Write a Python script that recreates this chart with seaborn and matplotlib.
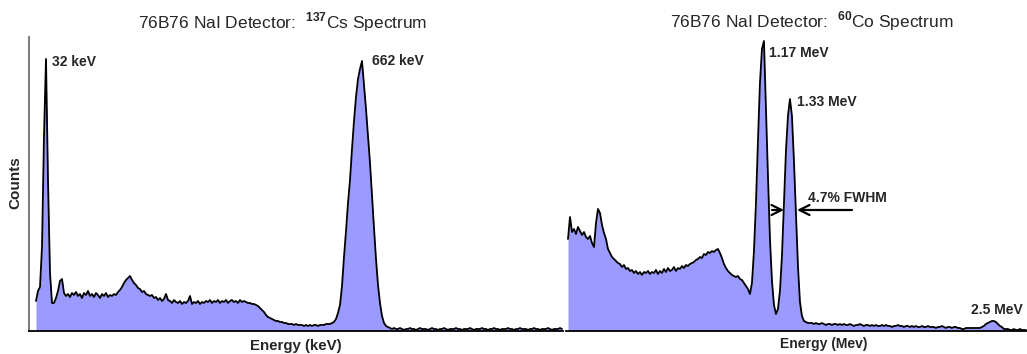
import numpy as np
import pandas as pd
import matplotlib
matplotlib.use("Agg")
import matplotlib.pyplot as plt
import seaborn as sns

# ---------------- data ----------------
# 137Cs spectrum: counts (arbitrary units), channels every 4 keV starting at 12 keV
cs_counts = [
    30, 40, 44, 84, 195, 272, 151, 58, 28, 28, 33, 40, 50, 52, 38, 35,
    37, 34, 38, 36, 39, 35, 37, 33, 38, 36, 40, 35, 37, 34, 38, 36,
    33, 37, 35, 38, 34, 36, 35, 37, 36, 39, 41, 44, 48, 51, 53, 55,
    51, 48, 46, 43, 42, 39, 40, 37, 36, 35, 36, 33, 34, 31, 33, 30,
    32, 37, 31, 30, 28, 31, 29, 28, 30, 27, 29, 28, 30, 35, 27, 29,
    28, 30, 27, 29, 28, 30, 29, 31, 28, 30, 29, 31, 28, 30, 29, 31,
    28, 30, 31, 29, 30, 28, 31, 29, 30, 29, 28, 28, 27, 27, 26, 25,
    23, 21, 19, 16, 14, 13, 12, 11, 10, 10, 9, 9, 8, 8, 7, 7,
    7, 6, 7, 6, 6, 6, 5, 6, 5, 6, 5, 6, 6, 5, 6, 6,
    6, 7, 7, 7, 8, 9, 12, 18, 26, 45, 74, 100, 128, 151, 182, 210,
    234, 252, 262, 270, 246, 222, 195, 168, 135, 103, 72, 46, 28, 15, 8, 5,
    4, 3,
    2, 3, 2, 2, 3, 2, 1, 2, 2, 3, 2, 2, 1, 2, 3, 2, 2, 2, 1, 2, 3, 2,
    2, 1, 2, 2, 3, 2, 1, 2, 2, 2, 3, 2, 2, 1, 2, 2, 2, 3, 2, 1, 2, 2,
    2, 3, 2, 2, 1, 2, 2, 3, 2, 2, 1, 2, 2, 2, 3, 2, 2, 1, 2, 2, 3, 2,
    2, 2, 1, 2, 2, 3, 2, 2, 1, 2, 2, 2, 3, 2, 1, 2, 2, 2, 3, 2,
]

# 60Co spectrum: counts (arbitrary units), channels every 0.01185 MeV
co_counts = [
    92, 114, 99, 102, 97, 104, 100, 96, 99, 94, 92, 95, 88, 84, 108, 122,
    118, 106, 98, 92, 82, 78, 74, 72, 70, 68, 67, 64, 66, 62, 63, 60,
    61, 58, 60, 57, 59, 56, 59, 58, 60, 57, 59, 58, 61, 57, 60, 58,
    62, 59, 63, 60, 61, 64, 60, 63, 62, 65, 63, 66, 65, 67, 68, 69,
    71, 72, 74, 73, 77, 76, 79, 78, 80, 79, 81, 82, 78, 73, 67, 63,
    60, 58, 56, 55, 54, 55, 52, 51, 48, 45, 42, 37, 48, 80, 128, 190,
    248, 282, 290, 222, 155, 92, 50, 26, 17, 22, 40, 75, 128, 180, 215, 232,
    215, 170, 118, 65, 29, 15, 10, 9, 8, 8,
    8, 7, 8, 7, 7, 8, 7, 6, 7, 7, 6, 7, 7, 6, 7,
    6, 7, 6, 6, 7, 6, 5, 6, 6, 7, 6, 5, 6, 6, 5,
    6, 5, 6, 5, 5, 6, 5, 6, 5, 5, 4, 5, 5, 6, 5,
    5, 4, 5, 5, 4, 5, 4, 5, 4, 4, 5, 4, 4, 5, 4,
    4, 4, 3, 4, 4, 5, 4, 3, 4, 4, 3, 4, 4, 3, 3,
    2, 2, 3, 3, 3, 3, 3, 3, 3,
    3, 4, 5, 7, 8, 9, 10, 10, 9, 7, 5, 4, 2, 2,
    2, 1, 1, 2, 1, 1, 2, 1, 1, 1,
]

cs_energy_kev = 12 + 4 * np.arange(len(cs_counts))
co_energy_mev = 0.01185 * (np.arange(len(co_counts)) + 1)

cs_title = r"76B76 NaI Detector:  $^{\mathbf{137}}$Cs Spectrum"
co_title = r"76B76 NaI Detector:  $^{\mathbf{60}}$Co Spectrum"
cs_peaks = ["32 keV", "662 keV"]
co_peaks = ["1.17 MeV", "1.33 MeV", "2.5 MeV"]
fwhm_label = "4.7% FWHM"

# ---------------- style ----------------
sns.set_style("white")
plt.rcParams['font.family'] = ['Liberation Sans', 'DejaVu Sans']
plt.rcParams['mathtext.fontset'] = 'custom'
plt.rcParams['mathtext.rm'] = 'Liberation Sans'
plt.rcParams['mathtext.bf'] = 'Liberation Sans:bold'

FILL = '#9a9aff'
W, H = 1027, 354

fig = plt.figure(figsize=(W / 100, H / 100), dpi=100)
ax1 = fig.add_axes([29 / W, 23 / H, 534 / W, 294 / H])
ax2 = fig.add_axes([566 / W, 23 / H, 461 / W, 294 / H])

cs_df = pd.DataFrame({'energy': cs_energy_kev, 'counts': cs_counts})
co_df = pd.DataFrame({'energy': co_energy_mev, 'counts': co_counts})

for ax, df in ((ax1, cs_df), (ax2, co_df)):
    ax.fill_between(df['energy'], 0, df['counts'], color=FILL, lw=0, zorder=1)
    sns.lineplot(data=df, x='energy', y='counts', ax=ax, color='black',
                 lw=1.3, zorder=2)
    ax.set_xlabel('')
    ax.set_ylabel('')
    ax.set_xticks([])
    ax.set_yticks([])
    ax.set_ylim(0, 294)
    ax.patch.set_alpha(0)
    for s in ('top', 'right'):
        ax.spines[s].set_visible(False)
    ax.spines['bottom'].set_color('black')
    ax.spines['bottom'].set_linewidth(1.3)

ax1.set_xlim(-2, 1066)
ax2.set_xlim(0, 2.732)
ax1.spines['left'].set_color('#808080')
ax1.spines['left'].set_linewidth(1.5)
ax2.spines['left'].set_visible(False)

lab = dict(fontsize=10, fontweight='bold', ha='left', va='center')
ax1.text(44, 269, cs_peaks[0], **lab)
ax1.text(684, 270, cs_peaks[1], **lab)
ax2.text(1.203, 278, co_peaks[0], **lab)
ax2.text(1.369, 229, co_peaks[1], **lab)
ax2.text(2.400, 21, co_peaks[2], **lab)
ax2.text(1.434, 133, fwhm_label, **lab)

arrow = dict(arrowstyle='->', color='black', lw=1.6, mutation_scale=18,
             shrinkA=0, shrinkB=0)
ax2.annotate('', xy=(1.292, 121), xytext=(1.221, 121), arrowprops=arrow)
ax2.annotate('', xy=(1.369, 121), xytext=(1.695, 121), arrowprops=arrow)

fig.text(283 / W, 1 - 22 / H, cs_title, fontsize=12.5, ha='center', va='center')
fig.text(812 / W, 1 - 21 / H, co_title, fontsize=12.5, ha='center', va='center')
fig.text(296 / W, 1 - 346 / H, "Energy (keV)", fontsize=10.8, fontweight='bold',
         ha='center', va='center')
fig.text(824 / W, 1 - 344 / H, "Energy (Mev)", fontsize=10, fontweight='bold',
         ha='center', va='center')
fig.text(15 / W, 1 - 183 / H, "Counts", fontsize=11, fontweight='bold',
         rotation=90, ha='center', va='center')

fig.savefig("out.png", dpi=100)
